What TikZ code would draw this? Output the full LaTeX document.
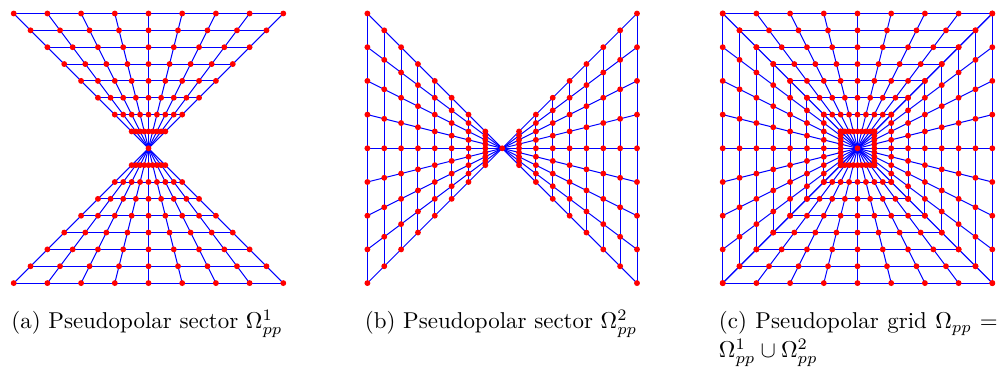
\documentclass[tikz,border=0pt]{standalone}
\usetikzlibrary{backgrounds}
\tikzset{
  griddot/.style={circle,fill=red,draw=none,inner sep=0pt,minimum size=4.4pt},
  gridline/.style={blue,line width=0.75pt},
  capt/.style={anchor=base west,inner sep=0pt,scale=1.72}
}
% #1 name, #2 centre node, #3 cx, #4 cy, #5 outward sign, #6 1 = rows horizontal, 0 = columns vertical
\newcommand{\sectorgrid}[6]{%
  \foreach \k in {1,...,8}{%
    \foreach \j in {0,...,8}{%
      \pgfmathsetmacro{\aa}{#5*\k*16.85}%
      \pgfmathsetmacro{\bb}{(\j-4)/4*\k*16.85}%
      \ifnum#6=1
        \node[griddot] (#1-\k-\j) at ({#3+\bb},{#4+\aa}) {};
      \else
        \node[griddot] (#1-\k-\j) at ({#3+\aa},{#4+\bb}) {};
      \fi
    }%
  }%
  \begin{scope}[on background layer]
    \foreach \k in {1,...,8}{%
      \draw[gridline] (#1-\k-0.center) -- (#1-\k-8.center);
    }
    \foreach \j in {0,...,8}{%
      \draw[gridline] (#2.center) -- (#1-8-\j.center);
    }
  \end{scope}
}
\begin{document}
\begin{tikzpicture}[x=0.75pt,y=-0.75pt]
\useasboundingbox (0,0) rectangle (999,371);
% panel a
\node[griddot] (ca) at (148.5,148.3) {};
\sectorgrid{aN}{ca}{148.5}{148.3}{-1}{1}
\sectorgrid{aS}{ca}{148.5}{148.3}{1}{1}
% panel b
\node[griddot] (cb) at (502.2,148.3) {};
\sectorgrid{bW}{cb}{502.2}{148.3}{-1}{0}
\sectorgrid{bE}{cb}{502.2}{148.3}{1}{0}
% panel c
\node[griddot] (cc) at (857.5,148.3) {};
\sectorgrid{cN}{cc}{857.5}{148.3}{-1}{1}
\sectorgrid{cS}{cc}{857.5}{148.3}{1}{1}
\sectorgrid{cW}{cc}{857.5}{148.3}{-1}{0}
\sectorgrid{cE}{cc}{857.5}{148.3}{1}{0}
% captions
\node[capt] (capa) at (11,328.7) {(a) Pseudopolar sector $\Omega^1_{pp}$};
\node[capt] (capb) at (364.5,328.7) {(b) Pseudopolar sector $\Omega^2_{pp}$};
\node[capt] (capc) at (718.5,328.7) {\hbox to 121.5pt{(c) Pseudopolar grid $\Omega_{pp}=$}};
\node[capt] (capd) at (718.5,357.4) {$\Omega^1_{pp}\cup\Omega^2_{pp}$};
\end{tikzpicture}
\end{document}
